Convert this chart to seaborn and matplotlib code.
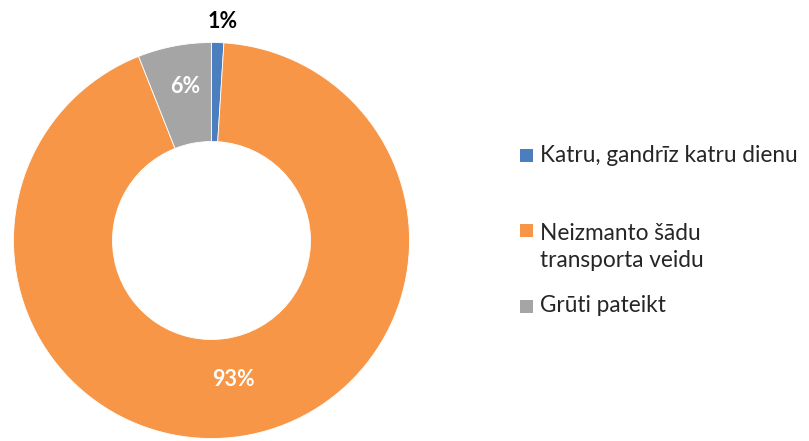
import matplotlib
matplotlib.use("Agg")
import matplotlib.pyplot as plt
import seaborn as sns
import numpy as np
from matplotlib.patches import Rectangle

categories = ["Katru, gandrīz katru dienu", "Neizmanto šādu\ntransporta veidu", "Grūti pateikt"]
values = [1, 93, 6]
labels = ["1%", "93%", "6%"]
colors = ["#4a7ebf", "#f79646", "#a5a5a5"]

sns.set_theme(style="white")
plt.rcParams['font.family'] = ['Lato', 'DejaVu Sans']

W, H = 809, 441
fig = plt.figure(figsize=(W / 100, H / 100), dpi=100)
fig.patch.set_facecolor("white")

cx, cy, R = 211.5, 240.5, 198
ax = fig.add_axes([(cx - R) / W, (H - cy - R) / H, 2 * R / W, 2 * R / H])
wedges, _ = ax.pie(values, colors=colors, startangle=90, counterclock=False,
                   radius=1, wedgeprops=dict(width=0.5, edgecolor="white", linewidth=0.6))
ax.set_xlim(-1, 1)
ax.set_ylim(-1, 1)
ax.set_aspect("equal")
ax.axis("off")

# data labels
label_r = [1.11, 0.71, 0.79]
label_col = ["black", "white", "white"]
offsets = [-1.2, 0, -1.0]
for w, lab, r, c, off in zip(wedges, labels, label_r, label_col, offsets):
    mid = np.deg2rad((w.theta1 + w.theta2) / 2 + off)
    ax.text(r * np.cos(mid), r * np.sin(mid), lab, ha="center", va="center",
            fontsize=15.5, fontweight="bold", color=c)

# legend (manual layout to match multi-line spacing)
sq = 13
leg_rows = [(155.5, 162), (230, 240), (306, 312)]
for (sq_c, base), cat, col in zip(leg_rows, categories, colors):
    fig.patches.append(Rectangle((520 / W, (H - sq_c - sq / 2) / H), sq / W, sq / H,
                                 transform=fig.transFigure, facecolor=col, edgecolor="none"))
    lines = cat.split("\n")
    for i, line in enumerate(lines):
        fig.text(540 / W, (H - base - 27 * i) / H, line, ha="left", va="baseline",
                 fontsize=16.3, color="#262626")

fig.savefig("out.png", dpi=100, facecolor="white")
